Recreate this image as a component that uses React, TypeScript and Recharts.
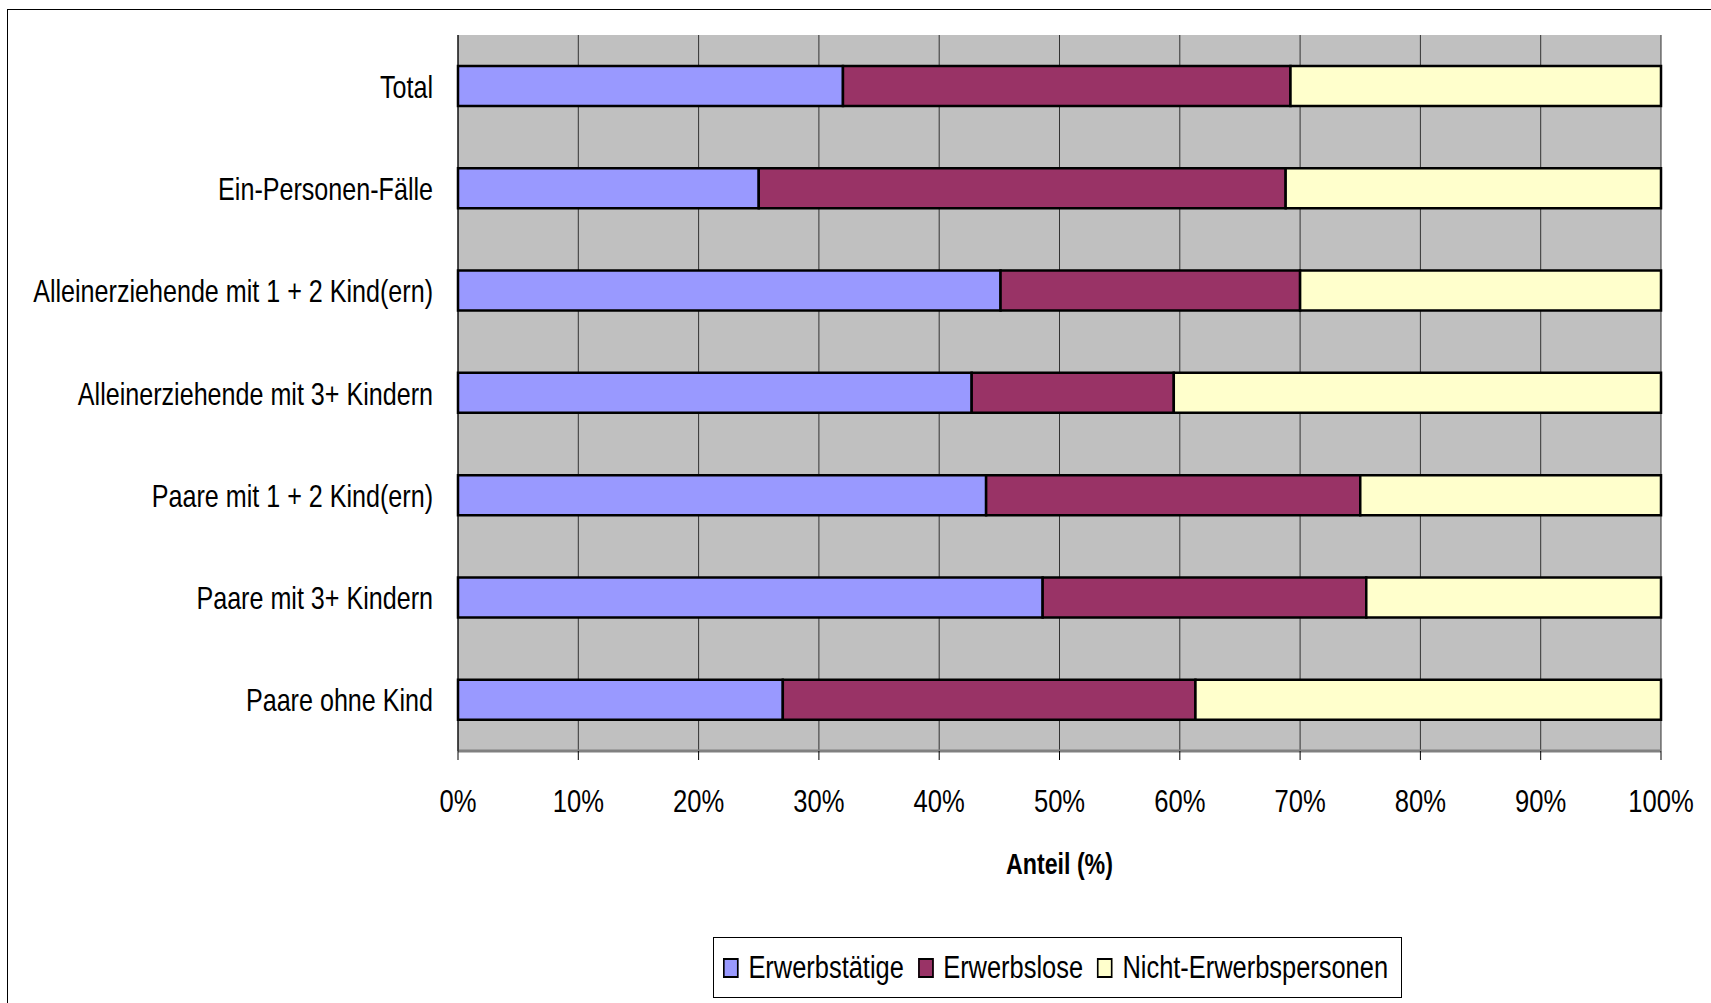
import React from 'react';
import { BarChart, Bar, XAxis, YAxis, CartesianGrid } from 'recharts';

const categories = [
  'Total',
  'Ein-Personen-Fälle',
  'Alleinerziehende mit 1 + 2 Kind(ern)',
  'Alleinerziehende mit 3+ Kindern',
  'Paare mit 1 + 2 Kind(ern)',
  'Paare mit 3+ Kindern',
  'Paare ohne Kind',
];
const erwerbstaetige = [32.0, 25.0, 45.1, 42.7, 43.9, 48.6, 27.0];
const erwerbslose = [37.2, 43.8, 24.9, 16.8, 31.1, 26.9, 34.3];
const nichtErwerbspersonen = [30.8, 31.2, 30.0, 40.5, 25.0, 24.5, 38.7];
const xTicks = [0, 10, 20, 30, 40, 50, 60, 70, 80, 90, 100];
const edgeTicks = [0, 1, 2, 3, 4, 5, 6, 7];
const seriesNames = ['Erwerbstätige', 'Erwerbslose', 'Nicht-Erwerbspersonen'];
const seriesKeys = ['a', 'b', 'c'];
const seriesColors = ['#9999FF', '#993366', '#FFFFCC'];
const xTitle = 'Anteil (%)';

const data = categories.map((name, i) => ({
  name,
  a: erwerbstaetige[i],
  b: erwerbslose[i],
  c: nichtErwerbspersonen[i],
}));

const FONT = '"Liberation Sans", Arial, sans-serif';
const SX = 0.8;
const SY_LABEL = 0.785;
const SX_LEGEND = 0.82;

const YTick = (props: any) => {
  const { x, y, payload } = props;
  return (
    <g transform={`translate(${x},${y})`}>
      <text transform={`scale(${SY_LABEL},1)`} textAnchor="end" dy="0.36em" fill="#000" fontSize={32} fontFamily={FONT}>
        {payload.value}
      </text>
    </g>
  );
};

const XTick = (props: any) => {
  const { x, y, payload } = props;
  return (
    <g transform={`translate(${x},${y})`}>
      <text transform={`scale(${SX},1)`} textAnchor="middle" dy="0.72em" fill="#000" fontSize={32} fontFamily={FONT}>
        {`${payload.value}%`}
      </text>
    </g>
  );
};

const EmptyTick = () => <g />;

const XTitle = (props: any) => {
  const vb = props.viewBox || {};
  const cx = vb.x + vb.width / 2;
  const by = vb.y + vb.height - 7;
  return (
    <g transform={`translate(${cx},${by})`}>
      <text transform={`scale(${SX},1)`} textAnchor="middle" fill="#000" fontSize={29} fontWeight="bold" fontFamily={FONT}>
        {xTitle}
      </text>
    </g>
  );
};

export default function App() {
  return (
    <div style={{ position: 'fixed', left: 0, top: 0, width: 1711, height: 1003, background: '#fff', overflow: 'hidden', fontFamily: FONT }}>
      <div style={{ position: 'absolute', left: 7, top: 9, width: 1720, height: 1020, border: '1px solid #000' }} />
      <div style={{ position: 'absolute', left: 0, top: 0 }}>
        <BarChart
          width={1711}
          height={1003}
          data={data}
          layout="vertical"
          margin={{ top: 35, right: 50, bottom: 122, left: 8 }}
          barSize={40}
        >
          <CartesianGrid horizontal={false} stroke="#333" strokeWidth={1} fill="#C0C0C0" />
          <XAxis
            type="number"
            domain={[0, 100]}
            ticks={xTicks}
            interval={0}
            axisLine={{ stroke: '#808080', strokeWidth: 3 }}
            tickLine={{ stroke: '#000', strokeWidth: 1 }}
            tickSize={9}
            tickMargin={29}
            height={130}
            tick={<XTick />}
            label={<XTitle />}
          />
          <XAxis
            xAxisId="top"
            orientation="top"
            type="number"
            domain={[0, 100]}
            height={0}
            tick={false}
            tickLine={false}
            axisLine={{ stroke: '#808080', strokeWidth: 3 }}
          />
          <YAxis
            type="category"
            dataKey="name"
            width={450}
            axisLine={{ stroke: '#000', strokeWidth: 1 }}
            tickLine={false}
            tickSize={7}
            tickMargin={18}
            interval={0}
            tick={<YTick />}
          />
          <YAxis
            yAxisId="edges"
            type="number"
            domain={[0, 7]}
            ticks={edgeTicks}
            interval={0}
            reversed
            width={0}
            tick={<EmptyTick />}
            axisLine={false}
            tickLine={{ stroke: '#000', strokeWidth: 1.5 }}
            tickSize={7}
          />
          <YAxis
            yAxisId="right"
            orientation="right"
            type="number"
            domain={[0, 7]}
            width={0}
            tick={false}
            tickLine={false}
            axisLine={{ stroke: '#808080', strokeWidth: 3 }}
          />
          {seriesKeys.map((k, i) => (
            <Bar
              key={k}
              dataKey={k}
              name={seriesNames[i]}
              stackId="s"
              fill={seriesColors[i]}
              stroke="#000"
              strokeWidth={2.5}
              isAnimationActive={false}
            />
          ))}
        </BarChart>
      </div>
      <div
        style={{
          position: 'absolute',
          left: 713,
          top: 937,
          width: 689,
          height: 61,
          border: '1px solid #000',
          boxSizing: 'border-box',
          overflow: 'hidden',
        }}
      >
        <div
          style={{
            position: 'absolute',
            left: 9,
            top: 0,
            height: 59,
            display: 'flex',
            alignItems: 'center',
            fontSize: 31,
            color: '#000',
            whiteSpace: 'nowrap',
            transform: `scaleX(${SX_LEGEND})`,
            transformOrigin: 'left center',
          }}
        >
          {seriesNames.map((n, i) => (
            <div key={n} style={{ display: 'flex', alignItems: 'center', marginRight: 17 }}>
              <div style={{ width: 15, height: 16, background: seriesColors[i], border: '2px solid #000', marginRight: 12 }} />
              <span>{n}</span>
            </div>
          ))}
        </div>
      </div>
    </div>
  );
}
